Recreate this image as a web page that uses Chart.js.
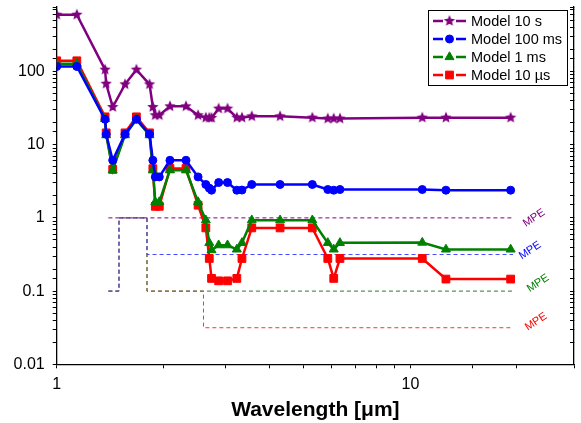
<!DOCTYPE html>
<html>
<head>
<meta charset="utf-8">
<script src="https://cdn.jsdelivr.net/npm/chart.js@4.4.0/dist/chart.umd.min.js"></script>
<style>
  html, body { margin: 0; padding: 0; background: #fff; }
</style>
</head>
<body>
<canvas id="chart" width="581" height="423"></canvas>
<script>
// DATA
const wavelengths = [1.0, 1.14, 1.37, 1.38, 1.44, 1.56, 1.68, 1.83, 1.87, 1.9, 1.95, 2.09, 2.32, 2.51, 2.64, 2.7, 2.74, 2.87, 3.04, 3.23, 3.34, 3.56, 4.28, 5.28, 5.84, 6.07, 6.32, 10.8, 12.6, 19.2]
const model10s = [596, 596, 106, 68, 32.7, 66.7, 106, 66.7, 32.7, 25.2, 25.2, 33.4, 33.4, 25.2, 23.4, 23.3, 23.2, 31.1, 31.1, 23.4, 23.4, 24.4, 24.4, 23.4, 22.7, 22.7, 22.7, 23.4, 23.4, 23.4]
const model100ms = [117, 117, 22.2, 13.9, 6.12, 13.9, 22.2, 13.9, 6.12, 3.63, 3.63, 6.12, 6.12, 3.63, 2.86, 2.55, 2.39, 3.04, 3.04, 2.39, 2.4, 2.86, 2.86, 2.86, 2.44, 2.39, 2.44, 2.44, 2.39, 2.39]
const model1ms = [128, 128, 22.5, 13.5, 4.48, 13.5, 22, 13.5, 4.48, 1.65, 1.65, 4.48, 4.48, 1.65, 0.93, 0.456, 0.363, 0.424, 0.424, 0.371, 0.456, 0.93, 0.93, 0.93, 0.456, 0.371, 0.456, 0.46, 0.371, 0.371]
const model10us = [140, 140, 24, 14.5, 4.6, 14.5, 24, 14.5, 4.7, 1.44, 1.44, 4.73, 4.73, 1.49, 0.73, 0.279, 0.149, 0.138, 0.138, 0.149, 0.279, 0.73, 0.73, 0.73, 0.279, 0.149, 0.279, 0.279, 0.146, 0.146]

const seriesLabels = ['Model 10 s', 'Model 100 ms', 'Model 1 ms', 'Model 10 \u00b5s']

// MPE step lines
const mpeX10s = [1.4, 19.5]
const mpeY10s = [1, 1]
const mpeX100ms = [1.4, 1.5, 1.5, 1.8, 1.8, 19.5]
const mpeY100ms = [0.1, 0.1, 1, 1, 0.316, 0.316]
const mpeX1ms = [1.4, 1.5, 1.5, 1.8, 1.8, 19.5]
const mpeY1ms = [0.1, 0.1, 1, 1, 0.1, 0.1]
const mpeX10us = [1.4, 1.5, 1.5, 1.8, 1.8, 2.6, 2.6, 19.5]
const mpeY10us = [0.1, 0.1, 1, 1, 0.1, 0.1, 0.0316, 0.0316]

const xTickLabels = [1, 10]
const yTickLabels = [0.01, 0.1, 1, 10, 100]

const FONT = "'Liberation Sans', Arial, sans-serif"
const PURPLE = '#800080'
const BLUE = '#0000ff'
const GREEN = '#008000'
const RED = '#ff0000'

function pts(xs, ys) {
  return xs.map((x, i) => ({ x: x, y: ys[i] }))
}

// filled five point star for the 10 s series
function starImage(color, r) {
  const c = document.createElement('canvas')
  const s = Math.ceil(r * 2 + 2)
  c.width = s
  c.height = s
  const g = c.getContext('2d')
  g.fillStyle = color
  g.beginPath()
  for (let i = 0; i < 10; i++) {
    const rr = i % 2 === 0 ? r : r * 0.45
    const a = -Math.PI / 2 + i * Math.PI / 5
    const px = s / 2 + rr * Math.cos(a)
    const py = s / 2 + rr * Math.sin(a)
    if (i === 0) g.moveTo(px, py)
    else g.lineTo(px, py)
  }
  g.closePath()
  g.fill()
  return c
}
const star = starImage(PURPLE, 6)

function modelSet(label, data, color, style, radius) {
  return {
    label: label,
    data: pts(wavelengths, data),
    borderColor: color,
    backgroundColor: color,
    pointBackgroundColor: color,
    pointBorderColor: color,
    pointBorderWidth: 1,
    borderWidth: 2.5,
    pointStyle: style,
    pointRadius: radius,
    tension: 0
  }
}

function mpeSet(xs, ys, color) {
  return {
    label: 'MPE',
    data: pts(xs, ys),
    borderColor: color,
    borderWidth: 1,
    borderDash: [4, 3],
    pointRadius: 0,
    tension: 0
  }
}

const isPow10 = v => Math.abs(Math.log10(v) - Math.round(Math.log10(v))) < 1e-6

const boxLegend = {
  id: 'boxLegend',
  afterDraw(chart) {
    const ctx = chart.ctx
    ctx.save()
    ctx.strokeStyle = '#000'
    ctx.lineWidth = 1
    ctx.strokeRect(428.5, 10.5, 139, 75)
    seriesLabels.forEach((label, i) => {
      const ds = chart.data.datasets[i]
      const y = 21 + i * 18
      ctx.strokeStyle = ds.borderColor
      ctx.fillStyle = ds.borderColor
      ctx.lineWidth = 2.5
      ctx.beginPath()
      ctx.moveTo(433, y)
      ctx.lineTo(443, y)
      ctx.moveTo(456, y)
      ctx.lineTo(466, y)
      ctx.stroke()
      ctx.lineWidth = 1
      Chart.helpers.drawPoint(ctx, { pointStyle: ds.pointStyle, radius: ds.pointRadius, rotation: 0, borderWidth: 1 }, 449.5, y)
      ctx.fillStyle = '#000'
      ctx.font = '14.5px ' + FONT
      ctx.textBaseline = 'middle'
      ctx.textAlign = 'left'
      ctx.fillText(label, 471, y + 1)
    })
    ctx.restore()
  }
}

const mpeText = {
  id: 'mpeText',
  afterDatasetsDraw(chart) {
    const { ctx, scales } = chart
    const levels = [mpeY10s, mpeY100ms, mpeY1ms, mpeY10us].map(a => a[a.length - 1])
    const colors = [PURPLE, BLUE, GREEN, RED]
    const dx = [21, 17, 25, 23]
    const dy = [0, -4, -8, -6]
    const xEnd = scales.x.getPixelForValue(mpeX10s[mpeX10s.length - 1])
    ctx.save()
    ctx.font = '11px ' + FONT
    ctx.textAlign = 'center'
    ctx.textBaseline = 'middle'
    levels.forEach((lv, i) => {
      ctx.save()
      ctx.translate(xEnd + dx[i], scales.y.getPixelForValue(lv) + dy[i])
      ctx.rotate(-33 * Math.PI / 180)
      ctx.fillStyle = colors[i]
      ctx.fillText('MPE', 0, 0)
      ctx.restore()
    })
    ctx.restore()
  }
}

const axisGrid = {
  drawOnChartArea: false,
  color: '#000',
  tickColor: '#000',
  tickLength: 4,
  tickWidth: 1
}

new Chart(document.getElementById('chart'), {
  type: 'line',
  data: {
    datasets: [
      modelSet(seriesLabels[0], model10s, PURPLE, star, 6),
      modelSet(seriesLabels[1], model100ms, BLUE, 'circle', 4),
      modelSet(seriesLabels[2], model1ms, GREEN, 'triangle', 5.2),
      modelSet(seriesLabels[3], model10us, RED, 'rect', 5.5),
      mpeSet(mpeX10s, mpeY10s, PURPLE),
      mpeSet(mpeX100ms, mpeY100ms, '#4b4bff'),
      mpeSet(mpeX1ms, mpeY1ms, '#2a7a2a'),
      mpeSet(mpeX10us, mpeY10us, '#ff3333')
    ]
  },
  options: {
    responsive: false,
    animation: false,
    layout: { padding: { top: 7, left: 0, right: 0, bottom: 0 } },
    plugins: {
      legend: { display: false },
      tooltip: { enabled: false }
    },
    scales: {
      x: {
        type: 'logarithmic',
        position: 'bottom',
        min: 1,
        max: 29,
        grid: axisGrid,
        border: { color: '#000', width: 1.3 },
        ticks: {
          autoSkip: false,
          maxRotation: 0,
          padding: 7,
          color: '#000',
          font: { family: FONT, size: 16 },
          callback: v => (xTickLabels.includes(v) ? String(v) : '')
        },
        title: {
          display: true,
          text: 'Wavelength [\u03bcm]',
          color: '#000',
          font: { family: FONT, size: 21, weight: 'bold' },
          padding: { top: 0, bottom: 0 }
        },
        afterFit: s => { s.height = 58.7; s.paddingLeft = 0; s.paddingRight = 0 }
      },
      y: {
        type: 'logarithmic',
        position: 'left',
        min: 0.01,
        max: 760,
        grid: axisGrid,
        border: { color: '#000', width: 1.3 },
        ticks: {
          autoSkip: false,
          padding: 8,
          color: '#000',
          font: { family: FONT, size: 16 },
          callback: v => (isPow10(v) && yTickLabels.some(t => Math.abs(t - v) < 1e-9) ? String(+v.toPrecision(3)) : '')
        },
        afterFit: s => { s.width = 56.7; s.paddingTop = 0; s.paddingBottom = 0 }
      },
      y2: {
        type: 'logarithmic',
        position: 'right',
        min: 0.01,
        max: 760,
        grid: { drawOnChartArea: false, color: '#000', tickColor: '#000', tickLength: -4 },
        border: { color: '#000', width: 1.3 },
        ticks: { display: false, autoSkip: false },
        afterFit: s => { s.width = 3; s.paddingTop = 0; s.paddingBottom = 0 }
      }
    }
  },
  plugins: [mpeText, boxLegend]
})
</script>
</body>
</html>
